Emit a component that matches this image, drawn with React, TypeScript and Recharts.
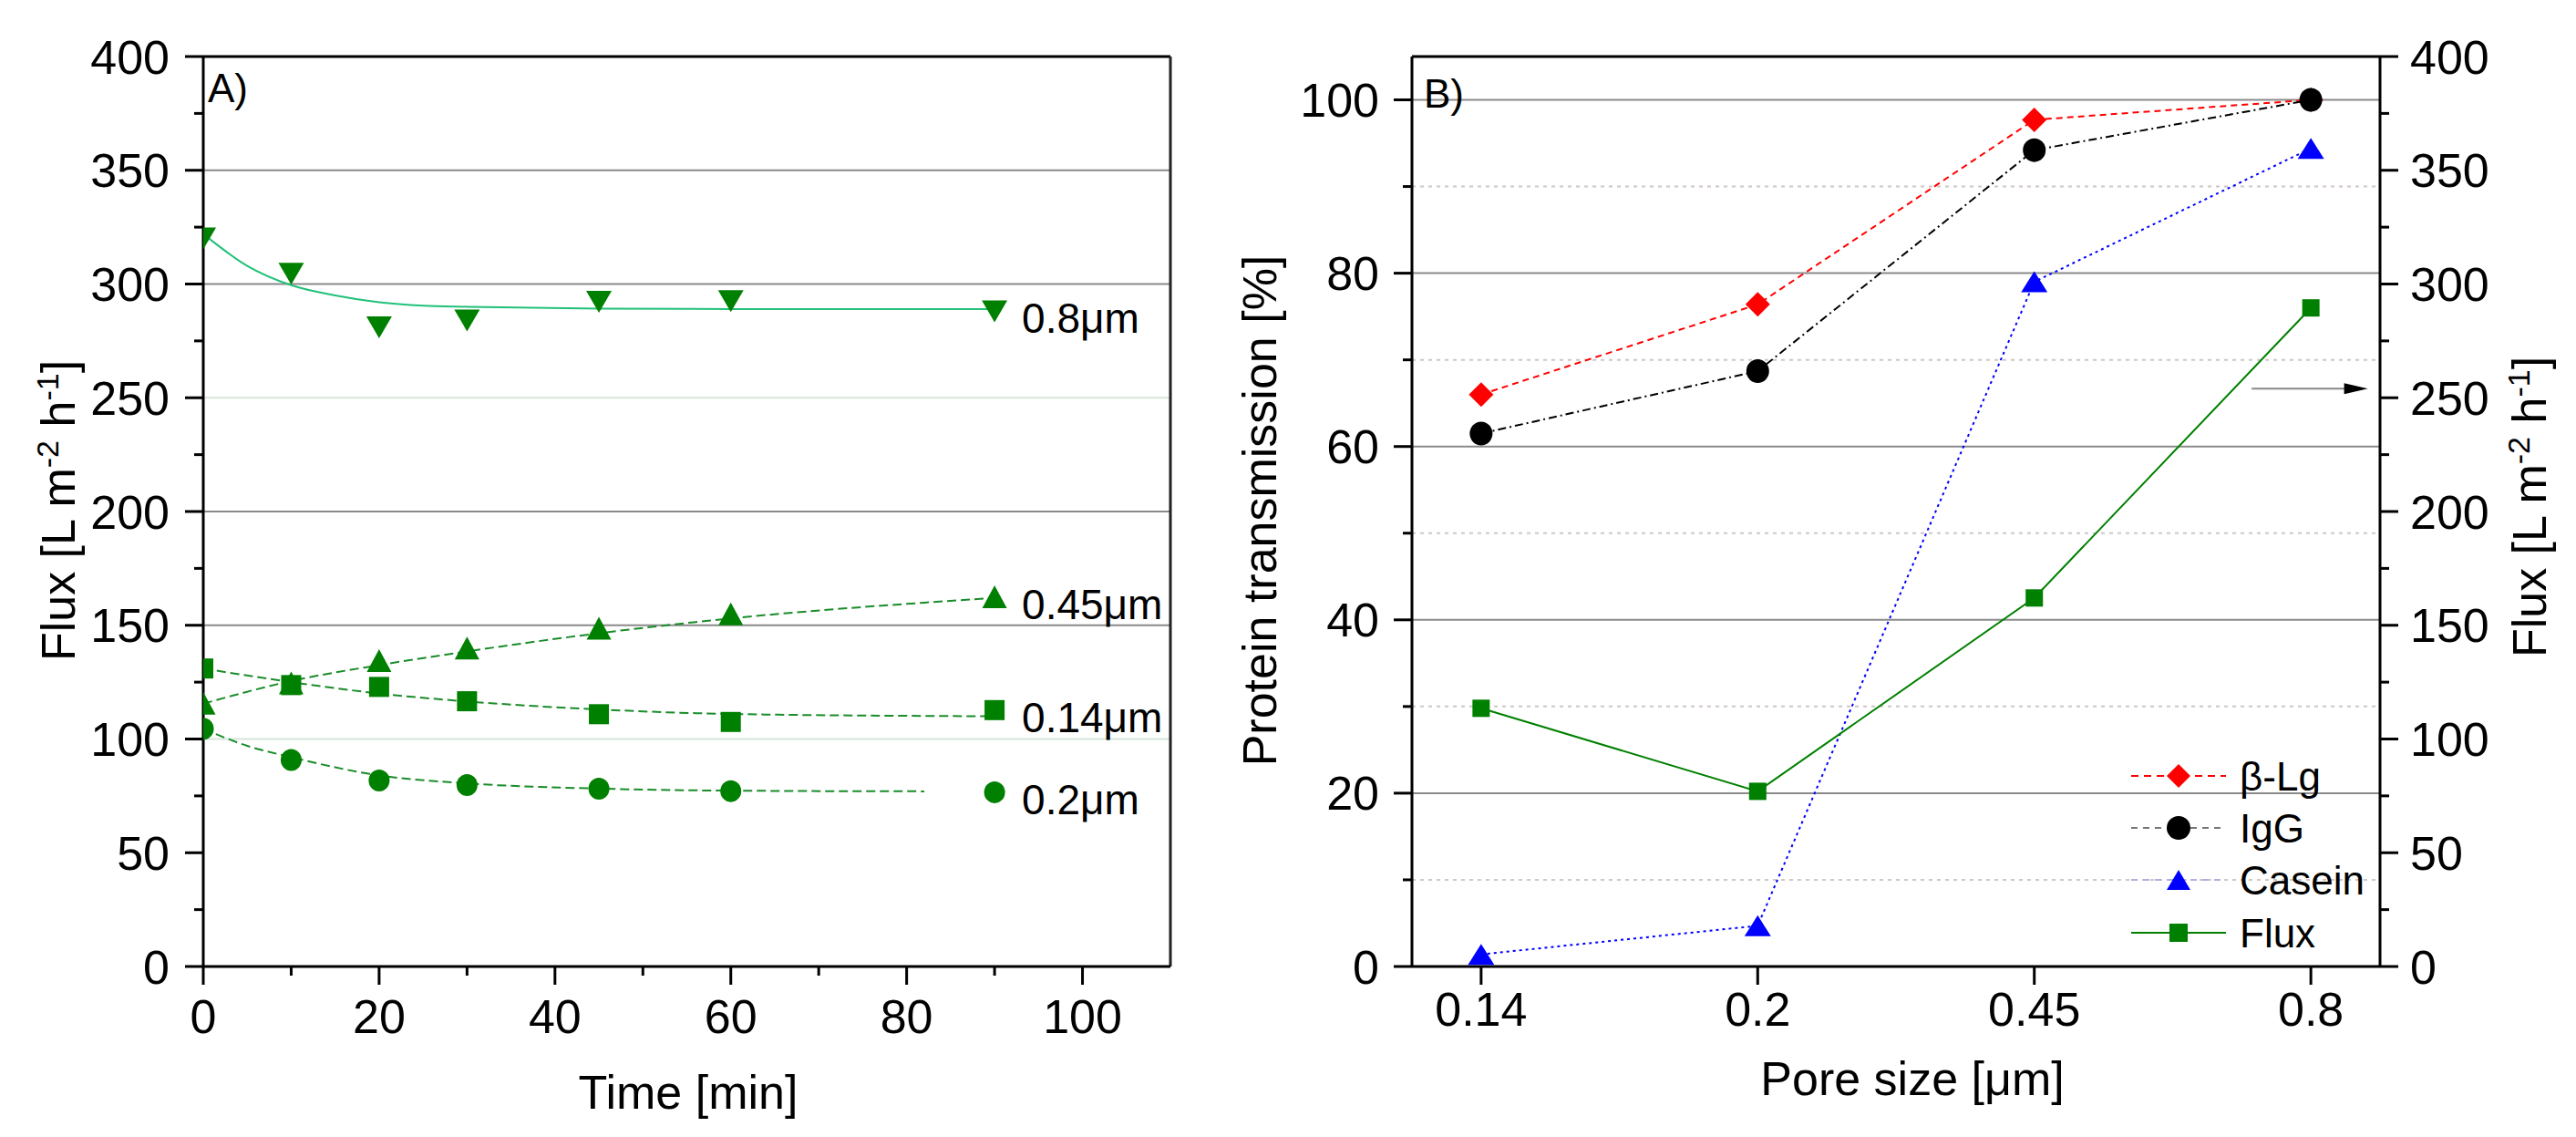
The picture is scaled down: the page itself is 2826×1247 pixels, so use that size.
import React from 'react';
import { ComposedChart, Line, Scatter, XAxis, YAxis, ReferenceLine, Legend } from 'recharts';

const FONT = '"Liberation Sans", Arial, Helvetica, sans-serif';

// ---------------- Panel A data ----------------
const timeMajor = [0, 20, 40, 60, 80, 100];
const timeMinor = [10, 30, 50, 70, 90];
const fluxMajorA = [0, 50, 100, 150, 200, 250, 300, 350, 400];
const fluxMinorA = [25, 75, 125, 175, 225, 275, 325, 375];
const gridStrongA = [150, 200, 300, 350];
const gridFaintA = [100, 250];

const timePoints = [0, 10, 20, 30, 45, 60, 90];
const flux08 = [320, 304.5, 281, 284, 292.2, 292.5, 288];
const flux045 = [115.7, 124.6, 134.5, 140, 148.7, 155, 162.5];
const flux014 = [131, 123.7, 122.9, 116.6, 110.9, 107.5, 112.7];
const flux02 = [104.5, 90.8, 81.8, 79.8, 78.2, 77.1, 76.6];

const fitTime08 = [0, 5, 10, 15, 20, 25, 30, 45, 60, 90];
const fit08 = [322, 308, 299.5, 295, 292, 290.5, 290, 289.2, 289, 289];
const fitTime045 = [0, 10, 20, 30, 45, 60, 90];
const fit045 = [115.5, 125.5, 132.5, 138.5, 146.5, 153, 162];
const fitTime014 = [0, 10, 20, 30, 45, 60, 90];
const fit014 = [131, 125, 120, 116.5, 113, 111, 110];
const fitTime02 = [0, 5, 10, 20, 30, 45, 60, 82];
const fit02 = [104.5, 97, 92, 84, 80.5, 78.2, 77.3, 77];

const labelsA = ['0.8\u03bcm', '0.45\u03bcm', '0.14\u03bcm', '0.2\u03bcm'];

// ---------------- Panel B data ----------------
const poreSizes = ['0.14', '0.2', '0.45', '0.8'];
const betaLg = [66.0, 76.4, 97.7, 100];
const igg = [61.5, 68.7, 94.2, 100];
const casein = [1.4, 4.7, 79.0, 94.4];
const fluxB = [113.5, 77, 162, 289.5];
const leftMajorB = [0, 20, 40, 60, 80, 100];
const leftMinorB = [10, 30, 50, 70, 90];
const rightMajorB = [0, 50, 100, 150, 200, 250, 300, 350, 400];
const rightMinorB = [25, 75, 125, 175, 225, 275, 325, 375];
const arrowFluxValue = 254;
const arrowFrom = 2.786;
const arrowTo = 3.206;

const legendNames = ['\u03b2-Lg', 'IgG', 'Casein', 'Flux'];
const legendColors = ['#ff0000', '#000000', '#0000ff', '#008000'];
const legendLineColors = ['#ff0000', '#777777', '#b0b0e0', '#008000'];
const legendDash = ['8 6', '7 6', '7 6', ''];
const legendKinds = ['diamond', 'circle', 'triangle', 'square'];

const zip = (xs: number[], ys: number[]) => xs.map((t, i) => ({ t, v: ys[i] }));
const pts08 = zip(timePoints, flux08);
const pts045 = zip(timePoints, flux045);
const pts014 = zip(timePoints, flux014);
const pts02 = zip(timePoints, flux02);
const fitData08 = zip(fitTime08, fit08);
const fitData045 = zip(fitTime045, fit045);
const fitData014 = zip(fitTime014, fit014);
const fitData02 = zip(fitTime02, fit02);
const lastIdx = timePoints.length - 1;
const labelDataA = [flux08, flux045, flux014, flux02].map((s, i) => ({
  t: timePoints[lastIdx],
  v: s[lastIdx],
  text: labelsA[i],
}));

const rowsB = poreSizes.map((p, i) => ({
  idx: i,
  pore: p,
  blg: betaLg[i],
  igg: igg[i],
  casein: casein[i],
  flux: fluxB[i],
}));

const sortNum = (a: number[]) => [...a].sort((x, y) => x - y);

// ---------------- Markers ----------------
function Marker({ cx, cy, kind, w, h, fill }: any) {
  if (cx == null || cy == null || isNaN(cx) || isNaN(cy)) return null;
  switch (kind) {
    case 'circle':
      return <ellipse cx={cx} cy={cy} rx={w / 2} ry={h / 2} fill={fill} />;
    case 'square':
      return <rect x={cx - w / 2} y={cy - h / 2} width={w} height={h} fill={fill} />;
    case 'triangle':
      return (
        <polygon
          points={`${cx},${cy - h / 2} ${cx + w / 2},${cy + h / 2} ${cx - w / 2},${cy + h / 2}`}
          fill={fill}
        />
      );
    case 'tridown':
      return (
        <polygon
          points={`${cx - w / 2},${cy - h / 2} ${cx + w / 2},${cy - h / 2} ${cx},${cy + h / 2}`}
          fill={fill}
        />
      );
    case 'diamond':
      return (
        <polygon
          points={`${cx},${cy - h / 2} ${cx + w / 2},${cy} ${cx},${cy + h / 2} ${cx - w / 2},${cy}`}
          fill={fill}
        />
      );
    default:
      return null;
  }
}

// ---------------- Ticks ----------------
function makeTick(orient: 'left' | 'right' | 'bottom', major: number[], gap: number, fmt?: (v: number) => string) {
  return (props: any) => {
    const { x, y, payload } = props;
    const v = payload.value;
    const isMajor = major.includes(v);
    const len = isMajor ? 20 : 10;
    const label = fmt ? fmt(v) : String(v);
    if (orient === 'bottom') {
      return (
        <g>
          <line x1={x} y1={y} x2={x} y2={y + len} stroke="#000" strokeWidth={3} />
          {isMajor && (
            <text x={x} y={y + gap} textAnchor="middle" fontSize={52} fontFamily={FONT} fill="#000">
              {label}
            </text>
          )}
        </g>
      );
    }
    if (orient === 'left') {
      return (
        <g>
          <line x1={x} y1={y} x2={x - len} y2={y} stroke="#000" strokeWidth={3} />
          {isMajor && (
            <text x={x - gap} y={y + 18.5} textAnchor="end" fontSize={52} fontFamily={FONT} fill="#000">
              {label}
            </text>
          )}
        </g>
      );
    }
    return (
      <g>
        <line x1={x} y1={y} x2={x + len} y2={y} stroke="#000" strokeWidth={3} />
        {isMajor && (
          <text x={x + gap} y={y + 18.5} textAnchor="start" fontSize={52} fontFamily={FONT} fill="#000">
            {label}
          </text>
        )}
      </g>
    );
  };
}

const axisLine = { stroke: '#000', strokeWidth: 3 };
const GREEN = '#008000';

function LegendBox() {
  const rowY = [31, 88, 145, 203];
  return (
    <svg width={380} height={240} style={{ overflow: 'visible' }}>
      {legendNames.map((n, i) => (
        <g key={n}>
          <line
            x1={18}
            y1={rowY[i]}
            x2={122}
            y2={rowY[i]}
            stroke={legendLineColors[i]}
            strokeWidth={2}
            strokeDasharray={legendDash[i] || undefined}
          />
          <Marker
            cx={70}
            cy={rowY[i]}
            kind={legendKinds[i]}
            w={legendKinds[i] === 'square' ? 20 : 26}
            h={legendKinds[i] === 'square' ? 20 : legendKinds[i] === 'triangle' ? 22 : 26}
            fill={legendColors[i]}
          />
          <text x={137} y={rowY[i] + 16} fontSize={44} fontFamily={FONT} fill="#000">
            {n}
          </text>
        </g>
      ))}
    </svg>
  );
}

export default function App() {
  const supStyle = { fontSize: 34 };
  return (
    <div
      style={{
        position: 'absolute',
        left: 0,
        top: 0,
        width: 2826,
        height: 1247,
        background: '#fff',
        fontFamily: FONT,
        overflow: 'hidden',
      }}
    >
      {/* Panel A */}
      <div style={{ position: 'absolute', left: 0, top: 0 }}>
        <ComposedChart width={1300} height={1247} margin={{ top: 62, right: 16, bottom: 0, left: 0 }}>
          <XAxis
            type="number"
            dataKey="t"
            domain={[0, 110]}
            allowDataOverflow
            ticks={sortNum([...timeMajor, ...timeMinor])}
            interval={0}
            height={187}
            tickSize={0}
            tickMargin={0}
            tickLine={false}
            axisLine={axisLine}
            tick={makeTick('bottom', timeMajor, 73)}
          />
          <YAxis
            type="number"
            domain={[0, 400]}
            allowDataOverflow
            ticks={sortNum([...fluxMajorA, ...fluxMinorA])}
            interval={0}
            width={223}
            tickSize={0}
            tickMargin={0}
            tickLine={false}
            axisLine={axisLine}
            tick={makeTick('left', fluxMajorA, 37)}
          />
          {gridFaintA.map((v) => (
            <ReferenceLine key={'f' + v} y={v} stroke="#d6e6da" strokeWidth={2} />
          ))}
          {gridStrongA.map((v) => (
            <ReferenceLine key={'s' + v} y={v} stroke="#8a8a8a" strokeWidth={2} />
          ))}
          <ReferenceLine y={400} stroke="#000" strokeWidth={3} />
          <ReferenceLine x={110} stroke="#222" strokeWidth={3} />

          <Line data={fitData08} dataKey="v" type="monotone" stroke="#22c07a" strokeWidth={2} dot={false} isAnimationActive={false} />
          <Line data={fitData045} dataKey="v" type="monotone" stroke="#1a8c2a" strokeWidth={2} strokeDasharray="10 5" dot={false} isAnimationActive={false} />
          <Line data={fitData014} dataKey="v" type="monotone" stroke="#1a8c2a" strokeWidth={2} strokeDasharray="10 5" dot={false} isAnimationActive={false} />
          <Line data={fitData02} dataKey="v" type="monotone" stroke="#1a8c2a" strokeWidth={2} strokeDasharray="10 5" dot={false} isAnimationActive={false} />

          <Scatter data={pts08} dataKey="v" isAnimationActive={false} shape={(p: any) => <Marker cx={p.cx} cy={p.cy} kind="tridown" w={28} h={24} fill={GREEN} />} />
          <Scatter data={pts045} dataKey="v" isAnimationActive={false} shape={(p: any) => <Marker cx={p.cx} cy={p.cy} kind="triangle" w={27} h={25} fill={GREEN} />} />
          <Scatter data={pts014} dataKey="v" isAnimationActive={false} shape={(p: any) => <Marker cx={p.cx} cy={p.cy} kind="square" w={22} h={22} fill={GREEN} />} />
          <Scatter data={pts02} dataKey="v" isAnimationActive={false} shape={(p: any) => <Marker cx={p.cx} cy={p.cy} kind="circle" w={23} h={24} fill={GREEN} />} />
          <Scatter
            data={labelDataA}
            dataKey="v"
            isAnimationActive={false}
            shape={(p: any) =>
              p.cx == null ? null : (
                <text x={p.cx + 30} y={p.cy + 24} fontSize={46} fontFamily={FONT} fill="#000">
                  {p.payload?.text ?? p.text}
                </text>
              )
            }
          />
        </ComposedChart>
      </div>

      {/* Panel B */}
      <div style={{ position: 'absolute', left: 1300, top: 0 }}>
        <ComposedChart width={1526} height={1247} data={rowsB} margin={{ top: 62, right: 0, bottom: 0, left: 0 }}>
          <XAxis
            type="number"
            dataKey="idx"
            domain={[-0.25, 3.25]}
            allowDataOverflow
            ticks={[0, 1, 2, 3]}
            interval={0}
            height={187}
            tickSize={0}
            tickMargin={0}
            tickLine={false}
            axisLine={axisLine}
            tick={makeTick('bottom', [0, 1, 2, 3], 65, (v) => poreSizes[v])}
          />
          <YAxis
            yAxisId="left"
            type="number"
            domain={[0, 105]}
            allowDataOverflow
            ticks={sortNum([...leftMajorB, ...leftMinorB])}
            interval={0}
            width={249}
            tickSize={0}
            tickMargin={0}
            tickLine={false}
            axisLine={axisLine}
            tick={makeTick('left', leftMajorB, 36)}
          />
          <YAxis
            yAxisId="right"
            orientation="right"
            type="number"
            domain={[0, 400]}
            allowDataOverflow
            ticks={sortNum([...rightMajorB, ...rightMinorB])}
            interval={0}
            width={215}
            tickSize={0}
            tickMargin={0}
            tickLine={false}
            axisLine={axisLine}
            tick={makeTick('right', rightMajorB, 33)}
          />
          {leftMinorB.map((v) => (
            <ReferenceLine key={'m' + v} yAxisId="left" y={v} stroke="#cfc6c6" strokeWidth={2} strokeDasharray="4 5" />
          ))}
          {leftMajorB.filter((v) => v > 0).map((v) => (
            <ReferenceLine key={'M' + v} yAxisId="left" y={v} stroke="#8a8a8a" strokeWidth={2} />
          ))}
          <ReferenceLine yAxisId="left" y={105} stroke="#000" strokeWidth={3} />

          <Line
            yAxisId="left"
            dataKey="blg"
            name={legendNames[0]}
            stroke="#ff0000"
            strokeWidth={2}
            strokeDasharray="7 5"
            isAnimationActive={false}
            dot={(p: any) => <Marker key={'d' + p.index} cx={p.cx} cy={p.cy} kind="diamond" w={27} h={27} fill="#ff0000" />}
          />
          <Line
            yAxisId="left"
            dataKey="igg"
            name={legendNames[1]}
            stroke="#000000"
            strokeWidth={2}
            strokeDasharray="9 4 2 4"
            isAnimationActive={false}
            dot={(p: any) => <Marker key={'c' + p.index} cx={p.cx} cy={p.cy} kind="circle" w={25} h={26} fill="#000" />}
          />
          <Line
            yAxisId="left"
            dataKey="casein"
            name={legendNames[2]}
            stroke="#0000ff"
            strokeWidth={2}
            strokeDasharray="3 4"
            isAnimationActive={false}
            dot={(p: any) => <Marker key={'t' + p.index} cx={p.cx} cy={p.cy} kind="triangle" w={29} h={23} fill="#0000ff" />}
          />
          <Line
            yAxisId="right"
            dataKey="flux"
            name={legendNames[3]}
            stroke="#008000"
            strokeWidth={2}
            isAnimationActive={false}
            dot={(p: any) => <Marker key={'s' + p.index} cx={p.cx} cy={p.cy} kind="square" w={19} h={19} fill="#008000" />}
          />
          <ReferenceLine
            yAxisId="right"
            segment={[
              { x: arrowFrom, y: arrowFluxValue },
              { x: arrowTo, y: arrowFluxValue },
            ]}
            stroke="#888"
            strokeWidth={2}
            shape={(p: any) => (
              <g>
                <line x1={p.x1} y1={p.y1} x2={p.x2 - 20} y2={p.y2} stroke="#888" strokeWidth={2} />
                <polygon points={`${p.x2},${p.y2} ${p.x2 - 26},${p.y2 - 6} ${p.x2 - 26},${p.y2 + 6}`} fill="#000" />
              </g>
            )}
          />
          <Legend
            layout="vertical"
            align="center"
            verticalAlign="middle"
            wrapperStyle={{ left: 1020, top: 820, width: 380, height: 240 }}
            content={() => <LegendBox />}
          />
        </ComposedChart>
      </div>

      {/* Titles and panel letters */}
      <svg
        width={2826}
        height={1247}
        style={{ position: 'absolute', left: 0, top: 0, pointerEvents: 'none' }}
        fontFamily={FONT}
      >
        <text x={228} y={112} fontSize={44} fill="#000">A)</text>
        <text x={1562} y={118} fontSize={44} fill="#000">B)</text>

        <text x={755} y={1216} fontSize={52} textAnchor="middle" fill="#000">Time [min]</text>
        <text x={2098} y={1201} fontSize={52} textAnchor="middle" fill="#000">Pore size [{'\u03bc'}m]</text>

        <text transform="rotate(-90, 82, 560)" x={82} y={560} fontSize={52} textAnchor="middle" fill="#000">
          Flux [L m<tspan dy={-18} style={supStyle}>-2</tspan>
          <tspan dy={18}> h</tspan>
          <tspan dy={-18} style={supStyle}>-1</tspan>
          <tspan dy={18}>]</tspan>
        </text>
        <text transform="rotate(-90, 1400, 560)" x={1400} y={560} fontSize={52} textAnchor="middle" fill="#000">
          Protein transmission [%]
        </text>
        <text transform="rotate(-90, 2793, 556)" x={2793} y={556} fontSize={52} textAnchor="middle" fill="#000">
          Flux [L m<tspan dy={-18} style={supStyle}>-2</tspan>
          <tspan dy={18}> h</tspan>
          <tspan dy={-18} style={supStyle}>-1</tspan>
          <tspan dy={18}>]</tspan>
        </text>
      </svg>
    </div>
  );
}
